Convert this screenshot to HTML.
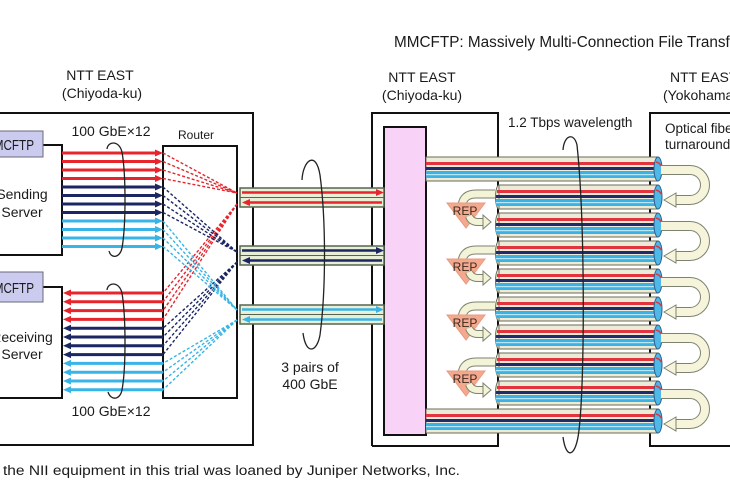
<!DOCTYPE html>
<html>
<head>
<meta charset="utf-8">
<style>
  html,body{margin:0;padding:0;background:#fff;}
  svg{display:block;}
  text{font-family:"Liberation Sans", "Noto Sans CJK JP", sans-serif; fill:#1a1a1a;}
</style>
</head>
<body>
<svg width="730" height="500" viewBox="0 0 730 500" xmlns="http://www.w3.org/2000/svg">
  <defs>
    <g id="bl">
      <rect x="426" y="0" width="232" height="24" fill="#ecebd7" stroke="#6b6b5a" stroke-width="1"/>
      <rect x="426" y="5" width="232" height="3" fill="#e2343f"/>
      <rect x="426" y="10" width="232" height="3" fill="#1f2b6b"/>
      <rect x="426" y="14" width="232" height="7" fill="#3cb1e3"/>
      <rect x="426" y="17" width="232" height="1.2" fill="#b5e6f5"/>
      <ellipse cx="658" cy="12" rx="4" ry="12" fill="#4fb8e6" stroke="#2d5f8f" stroke-width="1"/>
      <path d="M656 5 Q660 6 661 9" stroke="#e2343f" stroke-width="1.5" fill="none"/>
    </g>
    <g id="bs">
      <ellipse cx="499" cy="12" rx="3.5" ry="12" fill="#ecebd7" stroke="#6b6b5a" stroke-width="1"/>
      <rect x="499" y="0" width="159" height="24" fill="#ecebd7" stroke="#6b6b5a" stroke-width="1"/>
      <rect x="497" y="5" width="161" height="3" fill="#e2343f"/>
      <rect x="496" y="10" width="162" height="3" fill="#1f2b6b"/>
      <rect x="496" y="14" width="162" height="7" fill="#3cb1e3"/>
      <rect x="496" y="17" width="162" height="1.2" fill="#b5e6f5"/>
      <ellipse cx="658" cy="12" rx="4" ry="12" fill="#4fb8e6" stroke="#2d5f8f" stroke-width="1"/>
      <path d="M656 5 Q660 6 661 9" stroke="#e2343f" stroke-width="1.5" fill="none"/>
    </g>
  </defs>

  <!-- Title -->
  <text x="394" y="47" font-size="15.3" style="font-family:'Liberation Sans',sans-serif">MMCFTP: Massively Multi-Connection File Transfer Protocol</text>

  <!-- Location labels -->
  <text x="100" y="80" font-size="14" text-anchor="middle">NTT EAST</text>
  <text x="102" y="98" font-size="14" text-anchor="middle">(Chiyoda-ku)</text>
  <text x="422" y="82" font-size="14" text-anchor="middle">NTT EAST</text>
  <text x="422" y="100" font-size="14" text-anchor="middle">(Chiyoda-ku)</text>
  <text x="670" y="82" font-size="14">NTT EAST</text>
  <text x="663" y="100" font-size="14">(Yokohama)</text>

  <!-- Left outer box -->
  <rect x="-5" y="113" width="258" height="332" fill="none" stroke="#111" stroke-width="2"/>

  <!-- Sending server -->
  <rect x="-10" y="145" width="72" height="110" fill="#fff" stroke="#111" stroke-width="2"/>
  <rect x="-10" y="131" width="53" height="26" fill="#cbcaef" stroke="#6a6a7a" stroke-width="1"/>
  <text x="-16" y="150" font-size="15" textLength="50" lengthAdjust="spacingAndGlyphs">MMCFTP</text>
  <text x="22" y="199" font-size="14" text-anchor="middle">Sending</text>
  <text x="22" y="217" font-size="14" text-anchor="middle">Server</text>

  <!-- Receiving server -->
  <rect x="-10" y="287" width="72" height="111" fill="#fff" stroke="#111" stroke-width="2"/>
  <rect x="-10" y="272" width="53" height="30" fill="#cbcaef" stroke="#6a6a7a" stroke-width="1"/>
  <text x="-16" y="293" font-size="15" textLength="50" lengthAdjust="spacingAndGlyphs">MMCFTP</text>
  <text x="22" y="342" font-size="14" text-anchor="middle">Receiving</text>
  <text x="22" y="359" font-size="14" text-anchor="middle">Server</text>

  <!-- Router -->
  <rect x="163" y="146" width="74" height="252" fill="#fff" stroke="#111" stroke-width="2"/>
  <text x="196" y="139" font-size="12" text-anchor="middle">Router</text>

  <text x="111" y="136" font-size="14" text-anchor="middle">100 GbE×12</text>
  <text x="111" y="416" font-size="14" text-anchor="middle">100 GbE×12</text>

  <!-- Sending arrows -->
  <g stroke-width="3">
    <line x1="62" y1="153" x2="157" y2="153" stroke="#e8242c"/>
    <line x1="62" y1="161.5" x2="157" y2="161.5" stroke="#e8242c"/>
    <line x1="62" y1="170" x2="157" y2="170" stroke="#e8242c"/>
    <line x1="62" y1="178.5" x2="157" y2="178.5" stroke="#e8242c"/>
    <line x1="62" y1="187" x2="157" y2="187" stroke="#1b2663"/>
    <line x1="62" y1="195.5" x2="157" y2="195.5" stroke="#1b2663"/>
    <line x1="62" y1="204" x2="157" y2="204" stroke="#1b2663"/>
    <line x1="62" y1="212.5" x2="157" y2="212.5" stroke="#1b2663"/>
    <line x1="62" y1="221" x2="157" y2="221" stroke="#38b4e6"/>
    <line x1="62" y1="229.5" x2="157" y2="229.5" stroke="#38b4e6"/>
    <line x1="62" y1="238" x2="157" y2="238" stroke="#38b4e6"/>
    <line x1="62" y1="246.5" x2="157" y2="246.5" stroke="#38b4e6"/>
  </g>
  <g>
    <polygon points="155,149.5 163,153 155,156.5" fill="#e8242c"/>
    <polygon points="155,158 163,161.5 155,165" fill="#e8242c"/>
    <polygon points="155,166.5 163,170 155,173.5" fill="#e8242c"/>
    <polygon points="155,175 163,178.5 155,182" fill="#e8242c"/>
    <polygon points="155,183.5 163,187 155,190.5" fill="#1b2663"/>
    <polygon points="155,192 163,195.5 155,199" fill="#1b2663"/>
    <polygon points="155,200.5 163,204 155,207.5" fill="#1b2663"/>
    <polygon points="155,209 163,212.5 155,216" fill="#1b2663"/>
    <polygon points="155,217.5 163,221 155,224.5" fill="#38b4e6"/>
    <polygon points="155,226 163,229.5 155,233" fill="#38b4e6"/>
    <polygon points="155,234.5 163,238 155,241.5" fill="#38b4e6"/>
    <polygon points="155,243 163,246.5 155,250" fill="#38b4e6"/>
  </g>

  <!-- Receiving arrows -->
  <g stroke-width="3">
    <line x1="69" y1="293" x2="163" y2="293" stroke="#e8242c"/>
    <line x1="69" y1="301.8" x2="163" y2="301.8" stroke="#e8242c"/>
    <line x1="69" y1="310.6" x2="163" y2="310.6" stroke="#e8242c"/>
    <line x1="69" y1="319.4" x2="163" y2="319.4" stroke="#e8242c"/>
    <line x1="69" y1="328.2" x2="163" y2="328.2" stroke="#1b2663"/>
    <line x1="69" y1="337" x2="163" y2="337" stroke="#1b2663"/>
    <line x1="69" y1="345.8" x2="163" y2="345.8" stroke="#1b2663"/>
    <line x1="69" y1="354.6" x2="163" y2="354.6" stroke="#1b2663"/>
    <line x1="69" y1="363.4" x2="163" y2="363.4" stroke="#38b4e6"/>
    <line x1="69" y1="372.2" x2="163" y2="372.2" stroke="#38b4e6"/>
    <line x1="69" y1="381" x2="163" y2="381" stroke="#38b4e6"/>
    <line x1="69" y1="389.8" x2="163" y2="389.8" stroke="#38b4e6"/>
  </g>
  <g>
    <polygon points="71,289.5 63,293 71,296.5" fill="#e8242c"/>
    <polygon points="71,298.3 63,301.8 71,305.3" fill="#e8242c"/>
    <polygon points="71,307.1 63,310.6 71,314.1" fill="#e8242c"/>
    <polygon points="71,315.9 63,319.4 71,322.9" fill="#e8242c"/>
    <polygon points="71,324.7 63,328.2 71,331.7" fill="#1b2663"/>
    <polygon points="71,333.5 63,337 71,340.5" fill="#1b2663"/>
    <polygon points="71,342.3 63,345.8 71,349.3" fill="#1b2663"/>
    <polygon points="71,351.1 63,354.6 71,358.1" fill="#1b2663"/>
    <polygon points="71,359.9 63,363.4 71,366.9" fill="#38b4e6"/>
    <polygon points="71,368.7 63,372.2 71,375.7" fill="#38b4e6"/>
    <polygon points="71,377.5 63,381 71,384.5" fill="#38b4e6"/>
    <polygon points="71,386.3 63,389.8 71,393.3" fill="#38b4e6"/>
  </g>

  <!-- Left ellipse brackets -->
  <path d="M107 149 C108 141, 119 140, 122 152 C126 175, 126 225, 122 248 C120 258, 111 259, 109 251" fill="none" stroke="#222" stroke-width="1.3"/>
  <path d="M107 290 C108 282, 119 281, 122 293 C126 318, 126 368, 122 390 C120 400, 111 401, 108 392" fill="none" stroke="#222" stroke-width="1.3"/>

  <!-- Router dashed lines -->
  <g stroke-width="1.4" stroke-dasharray="3,2" fill="none">
    <g stroke="#e8242c">
      <line x1="163" y1="153" x2="237" y2="193"/>
      <line x1="163" y1="161.5" x2="237" y2="193"/>
      <line x1="163" y1="170" x2="237" y2="193"/>
      <line x1="163" y1="178.5" x2="237" y2="193"/>
      <line x1="237" y1="204" x2="163" y2="293"/>
      <line x1="237" y1="204" x2="163" y2="301.8"/>
      <line x1="237" y1="204" x2="163" y2="310.6"/>
      <line x1="237" y1="204" x2="163" y2="319.4"/>
    </g>
    <g stroke="#1b2663">
      <line x1="163" y1="187" x2="237" y2="252"/>
      <line x1="163" y1="195.5" x2="237" y2="252"/>
      <line x1="163" y1="204" x2="237" y2="252"/>
      <line x1="163" y1="212.5" x2="237" y2="252"/>
      <line x1="237" y1="262" x2="163" y2="328.2"/>
      <line x1="237" y1="262" x2="163" y2="337"/>
      <line x1="237" y1="262" x2="163" y2="345.8"/>
      <line x1="237" y1="262" x2="163" y2="354.6"/>
    </g>
    <g stroke="#38b4e6">
      <line x1="163" y1="221" x2="237" y2="310"/>
      <line x1="163" y1="229.5" x2="237" y2="310"/>
      <line x1="163" y1="238" x2="237" y2="310"/>
      <line x1="163" y1="246.5" x2="237" y2="310"/>
      <line x1="237" y1="320" x2="163" y2="363.4"/>
      <line x1="237" y1="320" x2="163" y2="372.2"/>
      <line x1="237" y1="320" x2="163" y2="381"/>
      <line x1="237" y1="320" x2="163" y2="389.8"/>
    </g>
  </g>

  <!-- Middle box -->
  <path d="M372 446 V113 H498 V446 H372" fill="none" stroke="#111" stroke-width="2"/>
  <!-- Right box -->
  <path d="M735 113 H650 V446 H735" fill="none" stroke="#111" stroke-width="2"/>

  <!-- Pink box -->
  <rect x="384" y="127" width="42" height="308" fill="#f9d3f7" stroke="#111" stroke-width="2"/>

  <!-- 400GbE pipes -->
  <g stroke="#556650" stroke-width="1.5" fill="#e9eed6">
    <rect x="240" y="188" width="144" height="19"/>
    <rect x="240" y="246" width="144" height="19"/>
    <rect x="240" y="305" width="144" height="19"/>
  </g>
  <g stroke="#556650" stroke-width="1">
    <line x1="240" y1="197.5" x2="384" y2="197.5"/>
    <line x1="240" y1="255.5" x2="384" y2="255.5"/>
    <line x1="240" y1="314.5" x2="384" y2="314.5"/>
  </g>
  <g stroke-width="2.6">
    <line x1="242" y1="192.5" x2="378" y2="192.5" stroke="#e8242c"/>
    <line x1="248" y1="202.5" x2="382" y2="202.5" stroke="#e8242c"/>
    <line x1="242" y1="250.5" x2="378" y2="250.5" stroke="#1b2663"/>
    <line x1="248" y1="260.5" x2="382" y2="260.5" stroke="#1b2663"/>
    <line x1="242" y1="309.5" x2="378" y2="309.5" stroke="#38b4e6"/>
    <line x1="248" y1="319.5" x2="382" y2="319.5" stroke="#38b4e6"/>
  </g>
  <polygon points="376,189 384,192.5 376,196" fill="#e8242c"/>
  <polygon points="250,199 242,202.5 250,206" fill="#e8242c"/>
  <polygon points="376,247 384,250.5 376,254" fill="#1b2663"/>
  <polygon points="250,257 242,260.5 250,264" fill="#1b2663"/>
  <polygon points="376,306 384,309.5 376,313" fill="#38b4e6"/>
  <polygon points="250,316 242,319.5 250,323" fill="#38b4e6"/>

  <!-- Middle ellipse -->
  <path d="M302 180 C303 160, 316 150, 320 175 C326 220, 326 290, 320 335 C317 352, 306 356, 303 333" fill="none" stroke="#222" stroke-width="1.3"/>
  <text x="310" y="372" font-size="14" text-anchor="middle">3 pairs of</text>
  <text x="310" y="389" font-size="14" text-anchor="middle">400 GbE</text>

  <!-- Fiber bundles -->
  <use href="#bl" transform="translate(0,157)"/>
  <use href="#bs" transform="translate(0,185)"/>
  <use href="#bs" transform="translate(0,213)"/>
  <use href="#bs" transform="translate(0,241)"/>
  <use href="#bs" transform="translate(0,269)"/>
  <use href="#bs" transform="translate(0,297)"/>
  <use href="#bs" transform="translate(0,325)"/>
  <use href="#bs" transform="translate(0,353)"/>
  <use href="#bs" transform="translate(0,381)"/>
  <use href="#bl" transform="translate(0,409)"/>

  <!-- REP units -->
  <g id="rep0">
    <path d="M495 194 H476 Q463 194 462 206" fill="none" stroke="#7d8270" stroke-width="9"/>
    <path d="M495 194 H476 Q463 194 462 206" fill="none" stroke="#f3f3d8" stroke-width="7"/>
    <polygon points="447,203 485,203 466,228" fill="#f4a88e" stroke="#e89a80" stroke-width="1"/>
    <text x="465" y="215" font-size="12" text-anchor="middle" style="fill:#3a2a20">REP</text>
    <path d="M469 216 Q471 222 478 222 H484" fill="none" stroke="#7d8270" stroke-width="8"/>
    <path d="M469 216 Q471 222 478 222 H484" fill="none" stroke="#f3f3d8" stroke-width="6"/>
    <polygon points="483,215 491,222 483,229" fill="#f3f3d8" stroke="#7d8270" stroke-width="1"/>
  </g>
  <use href="#rep0" transform="translate(0,56)"/>
  <use href="#rep0" transform="translate(0,112)"/>
  <use href="#rep0" transform="translate(0,168)"/>

  <!-- Turnaround U arrows -->
  <g id="u0">
    <path d="M661 170 H690 A15 15 0 0 1 690 200 H676" fill="none" stroke="#7d8270" stroke-width="10"/>
    <path d="M661 170 H690 A15 15 0 0 1 690 200 H676" fill="none" stroke="#f6f5dc" stroke-width="8"/>
    <polygon points="676,193 664,200 676,207" fill="#f6f5dc" stroke="#7d8270" stroke-width="1"/>
  </g>
  <use href="#u0" transform="translate(0,56)"/>
  <use href="#u0" transform="translate(0,112)"/>
  <use href="#u0" transform="translate(0,168)"/>
  <use href="#u0" transform="translate(0,224)"/>

  <!-- Right ellipse -->
  <path d="M563 150 C564 135, 574 132, 577 145 C585 220, 585 380, 579 430 C576 458, 566 460, 563 437" fill="none" stroke="#222" stroke-width="1.3"/>

  <text x="508" y="127" font-size="13.5">1.2 Tbps wavelength</text>
  <text x="665" y="133" font-size="13.5">Optical fiber</text>
  <text x="665" y="149" font-size="13.5">turnaround</text>

  <!-- Footer -->
  <text x="3" y="475" font-size="13.5" textLength="457" lengthAdjust="spacingAndGlyphs">the NII equipment in this trial was loaned by Juniper Networks, Inc.</text>
</svg>
</body>
</html>
